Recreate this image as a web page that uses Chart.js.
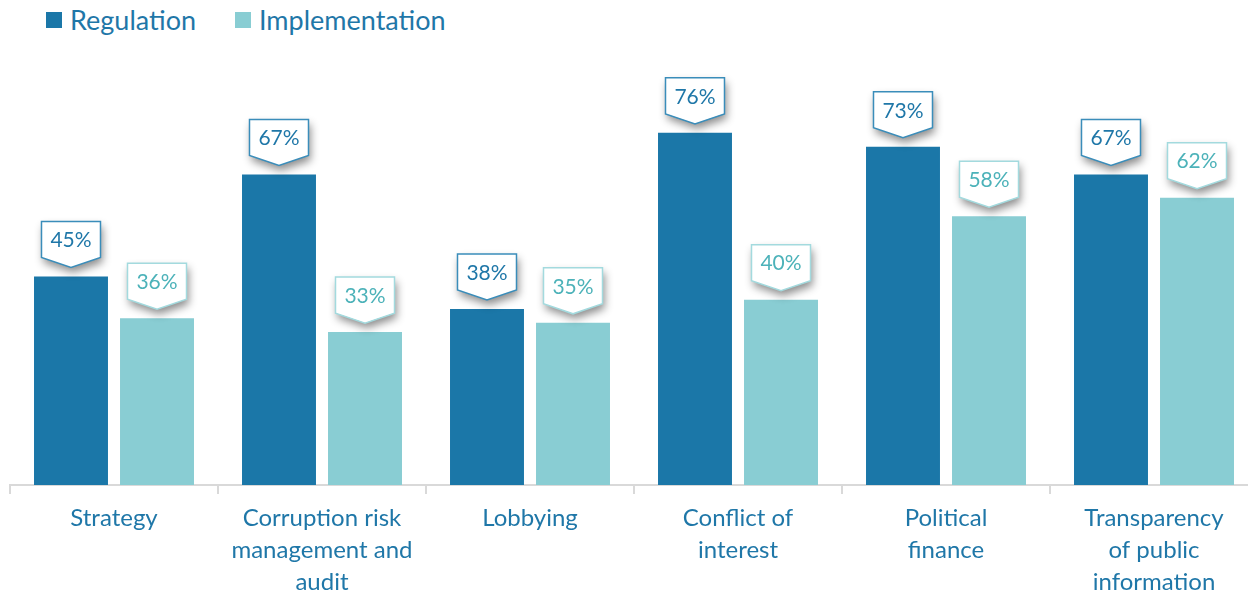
<!DOCTYPE html>
<html>
<head>
<meta charset="utf-8">
<script src="https://cdn.jsdelivr.net/npm/chart.js@4.4.1/dist/chart.umd.min.js"></script>
<style>
  body { margin: 0; background: #fff; overflow: hidden; }
  #wrap { position: relative; width: 1248px; height: 596px; overflow: hidden; }
  #chart { position: absolute; left: 0; top: 0; }
  #legend { position: absolute; left: 46px; top: 3px; font-family: Lato, sans-serif; font-size: 27px; color: #1f77a8; display: flex; align-items: center; }
  #legend span.key { display: inline-block; width: 16px; height: 16px; margin-right: 8px; }
  #legend .item { display: flex; align-items: center; margin-right: 39px; }
</style>
</head>
<body>
<div id="wrap">
  <div id="legend"></div>
  <canvas id="chart" width="1258" height="596"></canvas>
</div>
<script>
const categories = [
  ["Strategy"],
  ["Corruption risk", "management and", "audit"],
  ["Lobbying"],
  ["Conflict of", "interest"],
  ["Political", "finance"],
  ["Transparency", "of public", "information"]
];
const seriesNames = ["Regulation", "Implementation"];
const regulation = [45, 67, 38, 76, 73, 67];
const implementation = [36, 33, 35, 40, 58, 62];

const barColors = ["#1b77a8", "#89cdd3"];
const textColors = ["#1f77a8", "#4cb2b9"];
const edgeColors = ["#3a8dba", "#a3dade"];

// legend drawn as plain html above the canvas
const legend = document.getElementById("legend");
seriesNames.forEach((name, i) => {
  const item = document.createElement("div");
  item.className = "item";
  item.innerHTML = '<span class="key" style="background:' + barColors[i] + '"></span>' + name;
  legend.appendChild(item);
});

// callout boxes with a pointer above each bar
const calloutPlugin = {
  id: "callouts",
  afterDatasetsDraw(chart) {
    const ctx = chart.ctx;
    const w = 59, h = 36, tip = 10, gap = 9;
    chart.data.datasets.forEach((ds, di) => {
      chart.getDatasetMeta(di).data.forEach((bar, i) => {
        const cx = bar.x;
        const tipY = bar.y - gap;
        const bottom = tipY - tip;
        const top = bottom - h;
        const left = cx - w / 2, right = cx + w / 2;
        const path = () => {
          ctx.beginPath();
          ctx.moveTo(left, top);
          ctx.lineTo(right, top);
          ctx.lineTo(right, bottom);
          ctx.lineTo(cx, tipY);
          ctx.lineTo(left, bottom);
          ctx.closePath();
        };
        ctx.save();
        ctx.shadowColor = "rgba(0,0,0,0.45)";
        ctx.shadowBlur = 9;
        ctx.shadowOffsetX = 2;
        ctx.shadowOffsetY = 5;
        path();
        ctx.fillStyle = "#fff";
        ctx.fill();
        ctx.restore();
        ctx.save();
        path();
        ctx.lineWidth = 1.5;
        ctx.strokeStyle = edgeColors[di];
        ctx.stroke();
        ctx.fillStyle = textColors[di];
        ctx.font = "21px Lato";
        ctx.textAlign = "center";
        ctx.textBaseline = "middle";
        ctx.fillText(ds.data[i] + "%", cx, (top + bottom) / 2 + 1);
        ctx.restore();
      });
    });
  }
};

new Chart(document.getElementById("chart"), {
  type: "bar",
  data: {
    labels: categories,
    datasets: [
      { label: seriesNames[0], data: regulation, backgroundColor: barColors[0] },
      { label: seriesNames[1], data: implementation, backgroundColor: barColors[1] }
    ]
  },
  options: {
    responsive: false,
    animation: false,
    events: [],
    layout: { padding: { left: 10, right: 0, top: 68, bottom: 0 } },
    datasets: { bar: { categoryPercentage: 0.827, barPercentage: 0.86 } },
    plugins: { legend: { display: false }, tooltip: { enabled: false } },
    scales: {
      x: {
        grid: { display: true, offset: true, drawOnChartArea: false, drawTicks: true, tickLength: 9, color: "#d9d9d9", lineWidth: 2 },
        border: { display: true, color: "#d9d9d9", width: 2 },
        ticks: {
          color: "#1f77a8",
          font: { family: "Lato", size: 24, lineHeight: 1.33 },
          padding: 8,
          maxRotation: 0,
          autoSkip: false
        },
        afterFit(scale) { scale.height = 111; }
      },
      y: { display: false, min: 0, max: 90 }
    }
  },
  plugins: [calloutPlugin]
});
</script>
</body>
</html>
